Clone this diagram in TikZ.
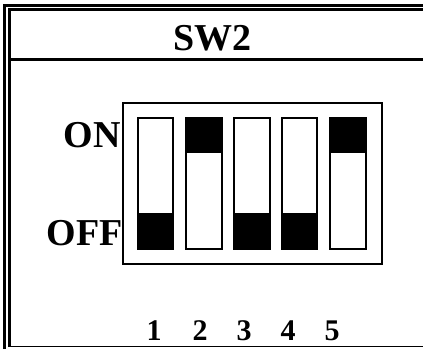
\documentclass[tikz,border=0pt]{standalone}
\usepackage{fontspec}
\setmainfont{Liberation Serif}
\begin{document}
\begin{tikzpicture}[x=1pt,y=-1pt,
  frameline/.style={line width=2.8pt},
  body/.style={draw,line width=1.7pt},
  slot/.style={draw,line width=1.6pt},
  knob/.style={fill=black},
  big/.style={font=\bfseries\fontsize{38}{40}\selectfont,inner sep=0pt},
  num/.style={font=\bfseries\fontsize{30}{32}\selectfont,inner sep=0pt,anchor=base}]
\useasboundingbox (0,0) rectangle (423,349);
% double outer frame
\draw[frameline] (4.2,349) -- (4.2,5.3) -- (423,5.3);
\draw[frameline] (9.2,347) -- (9.2,9.8) -- (423,9.8);
\draw[line width=3.2pt] (9,59.5) -- (423,59.5);
\draw[line width=1.4pt] (9,346.6) -- (423,346.6);
% title
\node[big,anchor=base] (title) at (212.5,50) {SW2};
% switch body
\draw[body] (123,103) rectangle (382,264);
% knobs
\fill[knob] (138,213) rectangle (173,249);
\fill[knob] (186,118) rectangle (222,153);
\fill[knob] (234,213) rectangle (270,249);
\fill[knob] (282,213) rectangle (317,249);
\fill[knob] (330,118) rectangle (366,153);
% slots
\foreach \xa/\xb in {138/173,186/222,234/270,282/317,330/366}{
  \draw[slot] (\xa,118) rectangle (\xb,249);
}
% labels
\node[big,anchor=base east] (on) at (121,147) {ON};
\node[big,anchor=base east] (off) at (123,245) {OFF};
\node[num] (n1) at (154,340) {1};
\node[num] (n2) at (200,340) {2};
\node[num] (n3) at (244,340) {3};
\node[num] (n4) at (288,340) {4};
\node[num] (n5) at (332,340) {5};
\end{tikzpicture}
\end{document}
